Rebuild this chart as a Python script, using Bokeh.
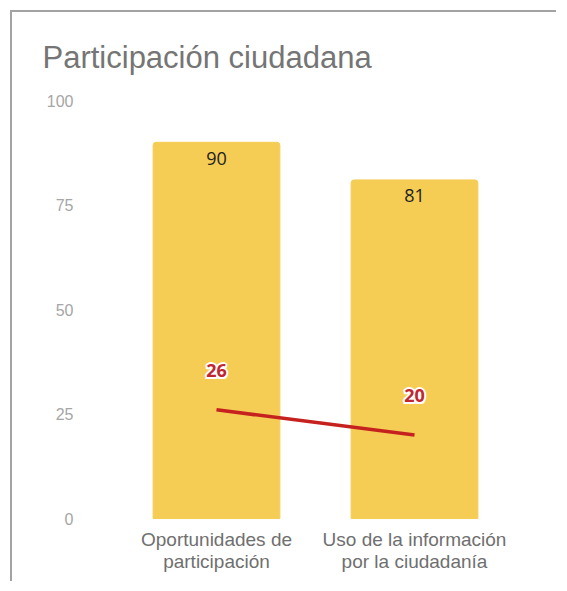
from bokeh.plotting import figure
from bokeh.models import ColumnDataSource, FactorRange, FixedTicker
from bokeh.core.properties import value
from bokeh.embed import file_html
from bokeh.resources import INLINE

categories = ["Oportunidades de participación", "Uso de la información por la ciudadanía"]
category_labels = ["Oportunidades de\nparticipación", "Uso de la información\npor la ciudadanía"]
bar_values = [90, 81]
line_values = [26, 20]
y_ticks = [0, 25, 50, 75, 100]
title_text = "Participación ciudadana"

src = ColumnDataSource(dict(cat=categories, bar=bar_values, line=line_values,
                            bar_txt=[str(v) for v in bar_values],
                            line_txt=[str(v) for v in line_values],
                            lab=category_labels, zero=[0] * len(categories)))

p = figure(width=546, height=571, output_backend="svg", toolbar_location=None,
           x_range=FactorRange(factors=categories, range_padding=0),
           y_range=(-14.1, 100),
           min_border_left=105, min_border_right=45, min_border_top=88, min_border_bottom=6,
           title=title_text)
p.styles = {"border-left": "2px solid #a3a3a3", "border-top": "2px solid #a3a3a3",
            "margin-left": "10px", "margin-top": "10px"}
p.outline_line_color = None
p.xgrid.grid_line_color = None
p.ygrid.grid_line_color = None

p.title.text_font = "Liberation Sans"
p.title.text_font_size = "31px"
p.title.text_font_style = "normal"
p.title.text_color = "#757575"
p.title.align = "left"
p.title.offset = -75
p.title.standoff = 51

p.vbar(x="cat", top="bar", width=0.64, source=src, color="#f5cd55",
       border_radius=(3, 3, 0, 0))
p.line(x="cat", y="line", source=src, line_color="#c5221f", line_width=3.5)

p.text(x="cat", y="bar", text="bar_txt", source=src, text_align="center",
       text_baseline="middle", y_offset=16, text_color="#222222",
       text_font=value("Open Sans"), text_font_size="18px")

# white halo behind the line labels
for dx, dy in [(-2, 0), (2, 0), (0, -2), (0, 2), (-1.5, -1.5), (1.5, -1.5), (-1.5, 1.5), (1.5, 1.5)]:
    p.text(x="cat", y="line", text="line_txt", source=src, text_align="center",
           text_baseline="middle", x_offset=dx, y_offset=-39 + dy, text_color="white",
           text_font=value("Open Sans"), text_font_size="18px", text_font_style="bold")
p.text(x="cat", y="line", text="line_txt", source=src, text_align="center",
       text_baseline="middle", y_offset=-39, text_color="#c2262e",
       text_font=value("Open Sans"), text_font_size="18px", text_font_style="bold")

# category labels (two lines each)
p.text(x="cat", y="zero", text="lab", source=src, text_align="center",
       text_baseline="top", y_offset=10, text_color="#6f6f6f",
       text_font=value("Liberation Sans"), text_font_size="19px", text_line_height=1.05)

p.xaxis.visible = False
p.yaxis.ticker = FixedTicker(ticks=y_ticks)
p.yaxis.axis_line_color = None
p.yaxis.major_tick_line_color = None
p.yaxis.minor_tick_line_color = None
p.yaxis.major_tick_out = 0
p.yaxis.major_label_standoff = 44
p.yaxis.major_label_text_color = "#a6a6a6"
p.yaxis.major_label_text_font = "Liberation Sans"
p.yaxis.major_label_text_font_size = "16px"

open("out.html", "w").write(file_html(p, INLINE))
